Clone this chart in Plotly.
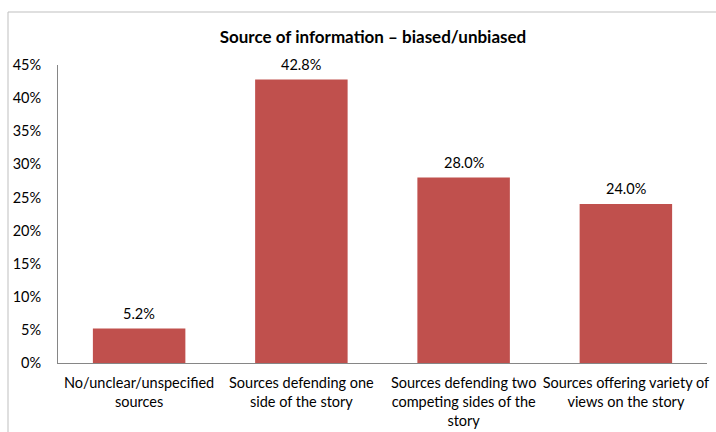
import plotly.graph_objects as go

categories = [
    "No/unclear/unspecified<br>sources",
    "Sources defending one<br>side of the story",
    "Sources defending two<br>competing sides of the<br>story",
    "Sources offering variety of<br>views on the story",
]
shares = [0.052, 0.428, 0.280, 0.240]
tick_vals = [0, 0.05, 0.10, 0.15, 0.20, 0.25, 0.30, 0.35, 0.40, 0.45]
tick_text = ["0%", "5%", "10%", "15%", "20%", "25%", "30%", "35%", "40%", "45%"]

FONT = "Lato"
BAR = "#C0504D"
AXIS = "#868686"
FS = 14.5

fig = go.Figure(
    go.Bar(
        x=categories,
        y=shares,
        marker=dict(color=BAR, line=dict(width=0)),
        hoverinfo="x+y",
    )
)

# value labels sitting a little above each bar
value_labels = [
    dict(
        x=c,
        y=v,
        xref="x",
        yref="y",
        text=f"{v * 100:.1f}%",
        showarrow=False,
        yanchor="bottom",
        yshift=5,
        font=dict(family=FONT, size=FS, color="#000000"),
    )
    for c, v in zip(categories, shares)
]

L, R, T, B = 58, 9, 65, 69
W, H = 716, 432
pw, ph = W - L - R, H - T - B

fig.update_layout(
    width=W,
    height=H,
    margin=dict(l=L, r=R, t=T, b=B, pad=0),
    paper_bgcolor="white",
    plot_bgcolor="white",
    bargap=0.43,
    showlegend=False,
    font=dict(family=FONT, size=FS, color="#000000"),
    title=dict(
        text="<b>Source of information – biased/unbiased</b>",
        x=373 / W,
        xanchor="center",
        y=1 - 37 / H,
        yanchor="middle",
        font=dict(family=FONT, size=17, color="#000000"),
    ),
    xaxis=dict(
        showline=True,
        linecolor=AXIS,
        linewidth=1,
        ticks="",
        showgrid=False,
        automargin=False,
        ticklabelstandoff=7,
        tickfont=dict(family=FONT, size=FS),
    ),
    yaxis=dict(
        range=[0, 0.45],
        tickvals=tick_vals,
        ticktext=tick_text,
        showline=True,
        linecolor=AXIS,
        linewidth=1,
        ticks="",
        showgrid=False,
        zeroline=False,
        automargin=False,
        ticklabelstandoff=13,
        tickfont=dict(family=FONT, size=FS),
    ),
    annotations=value_labels,
    shapes=[
        dict(
            type="rect",
            xref="paper",
            yref="paper",
            x0=(8 - L) / pw,
            x1=(W + 5 - L) / pw,
            y0=(H - B - (H + 5)) / ph,
            y1=(H - B - 12) / ph,
            line=dict(color="#BFBFBF", width=1),
            fillcolor="rgba(0,0,0,0)",
            layer="below",
        )
    ],
)

fig.write_html("out.html")
